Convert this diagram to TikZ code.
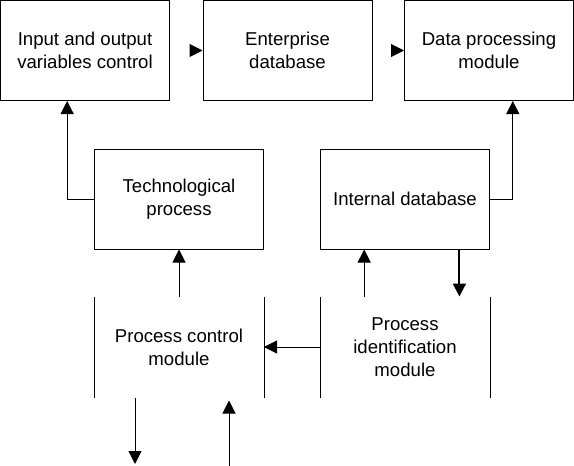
\documentclass[tikz,border=0pt]{standalone}
\usepackage{fontspec}
\setmainfont{Liberation Sans}
\usetikzlibrary{calc,arrows.meta,positioning}

\begin{document}
\begin{tikzpicture}[x=1pt, y=-1pt, line width=1pt,
    box/.style={draw, rectangle, inner sep=0pt, align=center,
      minimum width=169pt, minimum height=100pt,
      font=\fontsize{18.6}{23}\selectfont},
    openbox/.style={box, draw=none},
    arr/.style={-{Triangle[length=13pt, width=13pt]}}]
    \useasboundingbox (0,0) rectangle (574,466);

    % top row
    \node[box] (io) at (85,50.5) {Input and output\\variables control};
    \node[box] (entdb) at (287.5,50.5) {Enterprise\\database};
    \node[box] (dpm) at (489,50.5) {Data processing\\module};

    % middle row
    \node[box] (tech) at (179,199) {Technological\\process};
    \node[box] (intdb) at (405,199) {Internal database};

    % bottom row, only side walls
    \node[openbox] (pcm) at (179,347) {Process control\\module};
    \node[openbox] (pim) at (405,347) {Process\\identification\\module};
    \draw (pcm.north west) -- (pcm.south west) (pcm.north east) -- (pcm.south east);
    \draw (pim.north west) -- (pim.south west) (pim.north east) -- (pim.south east);

    \coordinate (ctrlout) at (135,464);
    \coordinate (ctrlin) at (229,466);

    \draw[arr, shorten <=21pt] (io) -- (entdb);
    \draw[arr, shorten <=21pt] (entdb) -- (dpm);
    \draw[arr] (tech.west) -| ($(io.south west)!0.395!(io.south east)$);
    \draw[arr] (intdb.east) -| ($(dpm.south west)!0.64!(dpm.south east)$);
    \draw[arr] (pcm.north) -- (tech.south);
    \draw[arr] ($(pim.north west)!0.26!(pim.north east)$) -- ($(intdb.south west)!0.26!(intdb.south east)$);
    \draw[arr, line width=2pt] ($(intdb.south west)!0.82!(intdb.south east)$) -- ($(pim.north west)!0.82!(pim.north east)$);
    \draw[arr] (pim.west) -- (pcm.east);
    \draw[arr] (ctrlout |- pcm.south) -- (ctrlout);
    \draw[arr, shorten >=3pt] (ctrlin) -- (ctrlin |- pcm.south);
\end{tikzpicture}
\end{document}
